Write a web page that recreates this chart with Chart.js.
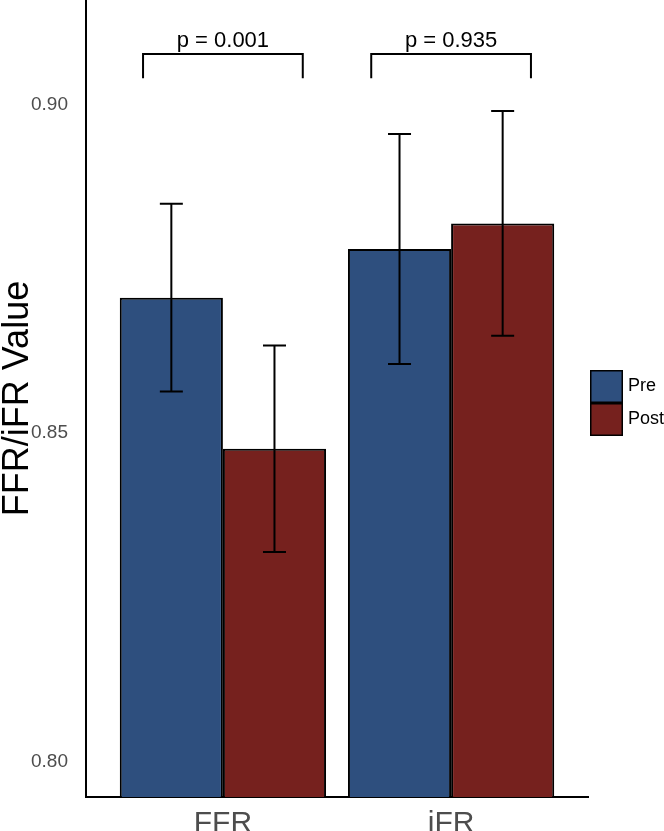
<!DOCTYPE html>
<html>
<head>
<meta charset="utf-8">
<script src="https://cdn.jsdelivr.net/npm/chart.js@4"></script>
<style>
  body { margin: 0; background: #fff; }
  #wrap { width: 664px; height: 831px; position: relative; }
</style>
</head>
<body>
<div id="wrap"><canvas id="ffrChart"></canvas></div>
<script>
// data
const categories = ['FFR', 'iFR'];
const preMeans = [0.8706, 0.8780];
const preErr = [0.0143, 0.0175];
const postMeans = [0.8476, 0.8819];
const postErr = [0.0157, 0.0171];
const pLabels = ['p = 0.001', 'p = 0.935'];
const yTicks = [0.80, 0.85, 0.90];

const preColor = '#2E4F7E';
const postColor = '#76211E';

Chart.defaults.font.family = "'Liberation Sans', Arial, Helvetica, sans-serif";

// error bars drawn on top of the bars
const errorBarPlugin = {
    id: 'errorBars',
    afterDatasetsDraw(chart) {
        const ctx = chart.ctx;
        const yScale = chart.scales.y;
        const errs = [preErr, postErr];
        const means = [preMeans, postMeans];
        ctx.save();
        ctx.strokeStyle = '#000';
        ctx.lineWidth = 2;
        chart.data.datasets.forEach((ds, d) => {
            chart.getDatasetMeta(d).data.forEach((bar, i) => {
                const top = yScale.getPixelForValue(means[d][i] + errs[d][i]);
                const bot = yScale.getPixelForValue(means[d][i] - errs[d][i]);
                const cap = 11.5;
                ctx.beginPath();
                ctx.moveTo(bar.x, top);
                ctx.lineTo(bar.x, bot);
                ctx.moveTo(bar.x - cap, top);
                ctx.lineTo(bar.x + cap, top);
                ctx.moveTo(bar.x - cap, bot);
                ctx.lineTo(bar.x + cap, bot);
                ctx.stroke();
            });
        });
        ctx.restore();
    }
};

// significance brackets + p values
const bracketPlugin = {
    id: 'brackets',
    afterDraw(chart) {
        const ctx = chart.ctx;
        const xs = chart.scales.x;
        const ys = chart.scales.y;
        ctx.save();
        ctx.strokeStyle = '#000';
        ctx.lineWidth = 2;
        categories.forEach((c, i) => {
            const xl = xs.getPixelForValue(i + 1 - 0.35);
            const xr = xs.getPixelForValue(i + 1 + 0.35);
            const yh = ys.getPixelForValue(0.9077);
            const yl = ys.getPixelForValue(0.9040);
            ctx.beginPath();
            ctx.moveTo(xl, yl);
            ctx.lineTo(xl, yh);
            ctx.lineTo(xr, yh);
            ctx.lineTo(xr, yl);
            ctx.stroke();
            ctx.fillStyle = '#000';
            ctx.font = "22px 'Liberation Sans', Arial, sans-serif";
            ctx.textAlign = 'center';
            ctx.textBaseline = 'alphabetic';
            ctx.fillText(pLabels[i], (xl + xr) / 2, yh - 7);
        });
        ctx.restore();
    }
};

// legend on the right, like ggplot's
const legendPlugin = {
    id: 'sideLegend',
    afterDraw(chart) {
        const ctx = chart.ctx;
        const area = chart.chartArea;
        const x = area.right + 2;
        const size = 33;
        let y = 370;
        ctx.save();
        chart.data.datasets.forEach(ds => {
            ctx.fillStyle = ds.backgroundColor;
            ctx.fillRect(x, y, size, size);
            ctx.strokeStyle = '#000';
            ctx.lineWidth = 1.5;
            ctx.strokeRect(x + 0.75, y + 0.75, size - 1.5, size - 1.5);
            ctx.fillStyle = '#000';
            ctx.font = "18px 'Liberation Sans', Arial, sans-serif";
            ctx.textAlign = 'left';
            ctx.textBaseline = 'middle';
            ctx.fillText(ds.label, x + size + 5, y + size / 2);
            y += size;
        });
        ctx.restore();
    }
};

const ctx = document.getElementById('ffrChart').getContext('2d');
new Chart(ctx, {
    type: 'bar',
    data: {
        datasets: [
            {
                label: 'Pre',
                data: categories.map((c, i) => ({ x: i + 1, y: preMeans[i] })),
                backgroundColor: preColor,
                borderColor: '#000',
                borderWidth: 2,
                borderSkipped: false,
                categoryPercentage: 0.904,
                barPercentage: 1
            },
            {
                label: 'Post',
                data: categories.map((c, i) => ({ x: i + 1, y: postMeans[i] })),
                backgroundColor: postColor,
                borderColor: '#000',
                borderWidth: 2,
                borderSkipped: false,
                categoryPercentage: 0.904,
                barPercentage: 1
            }
        ]
    },
    options: {
        responsive: true,
        maintainAspectRatio: false,
        animation: false,
        layout: { padding: { left: 0, right: 76, top: 0, bottom: 0 } },
        plugins: {
            legend: { display: false },
            tooltip: { enabled: false }
        },
        scales: {
            x: {
                type: 'linear',
                min: 0.4,
                max: 2.6,
                offset: false,
                grid: { display: false },
                border: { color: '#000', width: 2 },
                afterBuildTicks(scale) {
                    scale.ticks = categories.map((c, i) => ({ value: i + 1 }));
                },
                afterFit(scale) {
                    scale.height = 34;
                    scale.paddingLeft = 0;
                    scale.paddingRight = 0;
                },
                ticks: {
                    padding: 1,
                    color: '#4d4d4d',
                    font: { size: 30 },
                    callback: v => categories[Math.round(v) - 1]
                }
            },
            y: {
                min: 0.7946,
                max: 0.9159,
                grid: { display: false },
                border: { color: '#000', width: 2 },
                afterBuildTicks(scale) {
                    scale.ticks = yTicks.map(v => ({ value: v }));
                },
                afterFit(scale) {
                    scale.width = 86;
                    scale.paddingTop = 0;
                    scale.paddingBottom = 0;
                },
                ticks: {
                    padding: 10,
                    color: '#4d4d4d',
                    font: { size: 19 },
                    callback: v => v.toFixed(2)
                },
                title: {
                    display: true,
                    text: 'FFR/iFR Value',
                    color: '#000',
                    padding: 0,
                    font: { size: 36, lineHeight: 1 }
                }
            }
        }
    },
    plugins: [errorBarPlugin, bracketPlugin, legendPlugin]
});
</script>
</body>
</html>
